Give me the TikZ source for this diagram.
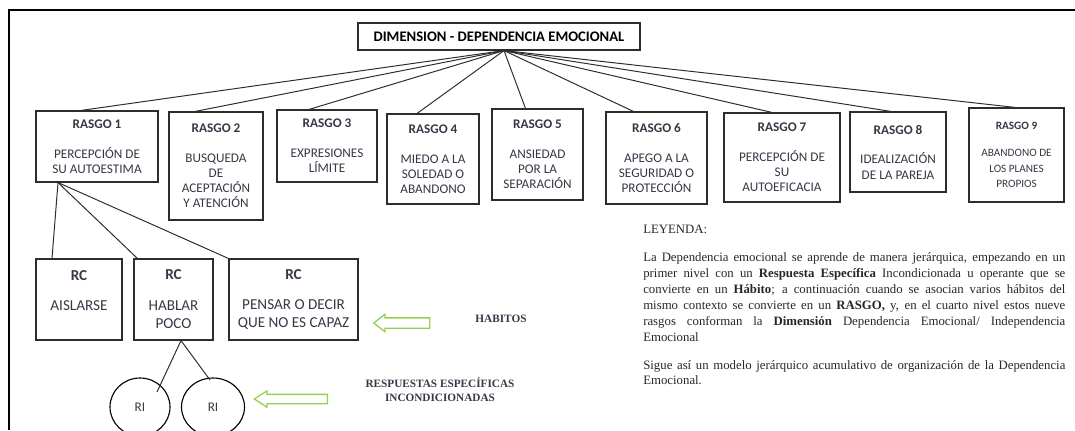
\documentclass[tikz,border=0pt]{standalone}
\usepackage{fontspec}
\setmainfont{Liberation Serif}
\newfontfamily\calibri{Carlito}
\usetikzlibrary{positioning, calc, shapes.geometric, shapes.arrows}
\definecolor{myInk}{RGB}{55, 55, 70}
\definecolor{myLine}{RGB}{45, 45, 45}
\definecolor{myGreen}{RGB}{146, 208, 80}
\tikzset{boxsize/.style 2 args={minimum width=#1*0.025cm, minimum height=#2*0.025cm}}

\begin{document}
\begin{tikzpicture}[x=0.025cm, y=-0.025cm,
    % --- box styles ---
    dimbox/.style={draw=myLine, line width=0.8pt, inner sep=0pt, font=\calibri\fontsize{10.4}{12}\selectfont\bfseries},
    rasgo/.style={draw=myLine, line width=0.8pt, inner sep=0pt, align=center, text=myInk, font=\calibri\fontsize{9.4}{10.7}\selectfont},
    rcbox/.style={draw=myLine, line width=0.8pt, inner sep=0pt, align=center, text=myInk, font=\calibri\fontsize{10.8}{12.8}\selectfont},
    ribox/.style={ellipse, draw=black, line width=0.8pt, inner sep=0pt, text=myInk, font=\calibri\fontsize{9.4}{11}\selectfont},
    % --- connector styles ---
    fanline/.style={draw=myLine, line width=0.7pt},
    hollowarrow/.style={single arrow, draw=myGreen, line width=0.9pt, shape border rotate=180, inner xsep=0pt},
    % --- text styles ---
    sidelabel/.style={text=myInk, align=center, font=\fontsize{8}{9.9}\selectfont\bfseries},
    legendtext/.style={text=black!85, text width=10.55cm, align=justify, inner sep=0pt, font=\fontsize{9.1}{11.3}\selectfont}
]
\useasboundingbox (0,0) rectangle (1075,430);
\clip (0,0) rectangle (1075,430);

% === frame ===
\draw[line width=1.2pt] (1075,10) -- (9,10) -- (9,430);

% === dimension and the nine traits ===
\node[dimbox, boxsize={282}{27}] (dim) at (499,36.5) {DIMENSION - DEPENDENCIA EMOCIONAL};
\coordinate (fan) at ($(dim.south)+(5,0)$);

\node[rasgo, boxsize={122}{71}] (r1) at (97,146.5) {\textbf{RASGO 1}\\[10.6pt]PERCEPCIÓN DE\\SU AUTOESTIMA};
\node[rasgo, boxsize={94}{108}] (r2) at (216,166) {\textbf{RASGO 2}\\[10.6pt]BUSQUEDA\\DE\\ACEPTACIÓN\\Y ATENCIÓN};
\node[rasgo, boxsize={100}{72}] (r3) at (327,146) {\textbf{RASGO 3}\\[10.6pt]EXPRESIONES\\LÍMITE};
\node[rasgo, boxsize={92}{90}] (r4) at (433,159) {\textbf{RASGO 4}\\[10.6pt]MIEDO A LA\\SOLEDAD O\\ABANDONO};
\node[rasgo, boxsize={91}{91}] (r5) at (537.5,154.5) {\textbf{RASGO 5}\\[10.6pt]ANSIEDAD\\POR LA\\SEPARACIÓN};
\node[rasgo, boxsize={101}{92}] (r6) at (656.5,158) {\textbf{RASGO 6}\\[10.6pt]APEGO A LA\\SEGURIDAD O\\PROTECCIÓN};
\node[rasgo, boxsize={116}{89}] (r7) at (782,157.5) {\textbf{RASGO 7}\\[10.6pt]PERCEPCIÓN DE\\SU\\AUTOEFICACIA};
\node[rasgo, boxsize={96}{80}] (r8) at (898,152) {\textbf{RASGO 8}\\[10.6pt]IDEALIZACIÓN\\DE LA PAREJA};
\node[rasgo, boxsize={95}{94}, font=\calibri\fontsize{8}{11}\selectfont] (r9) at (1016.5,155) {\textbf{RASGO 9}\\[8pt]ABANDONO DE\\LOS PLANES\\PROPIOS};

\foreach \rg/\dx in {r1/-16, r2/-21, r3/-18, r4/-16, r5/-12, r6/-23, r7/-10, r8/-7, r9/-1}
    \draw[fanline] (fan) -- ($(\rg.north)+(\dx,0)$);

% === habits (RC) under trait 1 ===
\node[rcbox, boxsize={86}{81}] (rc1) at (79,299.5) {\textbf{RC}\\[9.2pt]AISLARSE\\\mbox{}};
\node[rcbox, boxsize={79}{81}] (rc2) at (173.5,299.5) {\textbf{RC}\\[9.2pt]HABLAR\\POCO};
\node[rcbox, boxsize={129}{81}] (rc3) at (293.5,299.5) {\textbf{RC}\\[9.2pt]PENSAR O DECIR\\QUE NO ES CAPAZ};

\coordinate (r1foot) at ($(r1.south)+(-39,0)$);
\draw[fanline] (r1foot) -- ($(rc1.north)+(-27,0)$);
\draw[fanline] (r1foot) -- ($(rc2.north west)+(4,0)$);
\draw[fanline] (r1foot) -- (rc3.north west);

% === specific responses (RI) ===
\node[ribox, boxsize={60}{58}] (ri1) at (140,407) {RI};
\node[ribox, boxsize={63}{58}] (ri2) at (213,407) {RI};

\coordinate (rc2foot) at ($(rc2.south)+(7.5,0)$);
\draw[fanline] (rc2foot) -- ($(ri1.center)+(17,-15)$);
\draw[fanline] (rc2foot) -- ($(ri2.center)+(-3,-27)$);

% === green arrows and their labels ===
\node[hollowarrow, minimum height=1.4cm, inner ysep=0.1125cm, single arrow head extend=0.0875cm, single arrow tip angle=75] (arrhab) at (405,323) {};
\node[sidelabel] (habitos) at (501,319) {HABITOS};

\node[hollowarrow, minimum height=1.825cm, inner ysep=0.1cm, single arrow head extend=0.09cm, single arrow tip angle=66] (arrresp) at (294.5,399) {};
\node[sidelabel] (respuestas) at (440,390) {RESPUESTAS ESPECÍFICAS\\INCONDICIONADAS};

% === legend ===
\node[legendtext, anchor=north west] (leyenda) at (643,224.5) {%
LEYENDA:\par\vspace{9pt}
La Dependencia emocional se aprende de manera jerárquica, empezando en un\linebreak
primer nivel con un \textbf{Respuesta Específica} Incondicionada u operante que se\linebreak
convierte en un \textbf{Hábito}; a continuación cuando se asocian varios hábitos del\linebreak
mismo contexto se convierte en un \textbf{RASGO,} y, en el cuarto nivel estos nueve\linebreak
rasgos conforman la \textbf{Dimensión} Dependencia Emocional/ Independencia\linebreak
Emocional\par\vspace{8.5pt}
Sigue así un modelo jerárquico acumulativo de organización de la Dependencia\linebreak
Emocional.};

\end{tikzpicture}
\end{document}
